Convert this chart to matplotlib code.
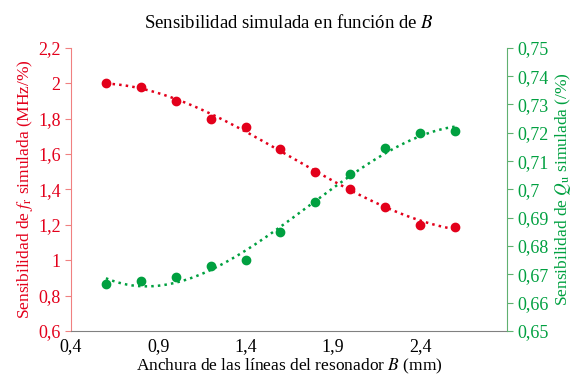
import numpy as np
import matplotlib
matplotlib.use("Agg")
import matplotlib.pyplot as plt
from matplotlib.ticker import FuncFormatter, MultipleLocator

plt.rcParams['font.family'] = 'Liberation Serif'
plt.rcParams['mathtext.fontset'] = 'stix'

ancho = [0.6, 0.8, 1.0, 1.2, 1.4, 1.6, 1.8, 2.0, 2.2, 2.4, 2.6]
sens_fr = [2.0, 1.98, 1.90, 1.80, 1.75, 1.63, 1.50, 1.40, 1.30, 1.20, 1.19]
sens_qu = [0.6666, 0.6677, 0.6692, 0.6730, 0.6752, 0.6848, 0.6956, 0.7054, 0.7147, 0.7200, 0.7206]
xticks = [0.4, 0.9, 1.4, 1.9, 2.4]

rojo = '#E3001B'
verde = '#00A040'


def coma(v, pos):
    return ('%g' % round(v, 4)).replace('.', ',')


fig = plt.figure(figsize=(5.75, 3.74), dpi=100)
ax = fig.add_axes([0.1235, 0.115, 0.759, 0.757])
ax2 = ax.twinx()

# lineas de tendencia polinomicas (grado 3)
xs = np.linspace(ancho[0], ancho[-1], 200)
p1 = np.polyfit(ancho, sens_fr, 3)
p2 = np.polyfit(ancho, sens_qu, 3)
ax.plot(xs, np.polyval(p1, xs), ':', color=rojo, lw=1.8)
ax2.plot(xs, np.polyval(p2, xs), ':', color=verde, lw=1.8)
ax.plot(ancho, sens_fr, 'o', color=rojo, ms=6, zorder=3)
ax2.plot(ancho, sens_qu, 'o', color=verde, ms=6, zorder=3)

ax.set_xlim(0.4, 2.9)
ax.set_ylim(0.6, 2.2)
ax2.set_ylim(0.65, 0.75)
ax.set_xticks(xticks)
ax.yaxis.set_major_locator(MultipleLocator(0.2))
ax2.yaxis.set_major_locator(MultipleLocator(0.01))
for a in (ax, ax2):
    a.xaxis.set_major_formatter(FuncFormatter(coma))
    a.yaxis.set_major_formatter(FuncFormatter(coma))
    a.spines['top'].set_visible(False)

ax.spines['left'].set_color('#F08080')
ax.spines['right'].set_visible(False)
ax.spines['bottom'].set_color('#808080')
ax2.spines['left'].set_visible(False)
ax2.spines['bottom'].set_visible(False)
ax2.spines['right'].set_color('#60B070')

ax.tick_params(axis='y', colors='#F08080', labelcolor=rojo, labelsize=13, length=4, width=0.8)
ax.tick_params(axis='x', length=0, labelsize=13, pad=5)
ax2.tick_params(axis='y', colors='#60B070', labelcolor=verde, labelsize=13, length=4, width=0.8)

ax.set_title('Sensibilidad simulada en función de $B$', fontsize=13.5, pad=14)
ax.set_xlabel('Anchura de las líneas del resonador $B$ (mm)', fontsize=12.5, labelpad=1)
ax.set_ylabel(r'Sensibilidad de $f_{\mathrm{r}}$ simulada (MHz/%)', color=rojo, fontsize=12.5, labelpad=2)
ax2.set_ylabel(r'Sensibilidad de $Q_{\mathrm{u}}$ simulada (/%)', color=verde, fontsize=12.5, labelpad=3)

fig.savefig('out.png', dpi=100)
